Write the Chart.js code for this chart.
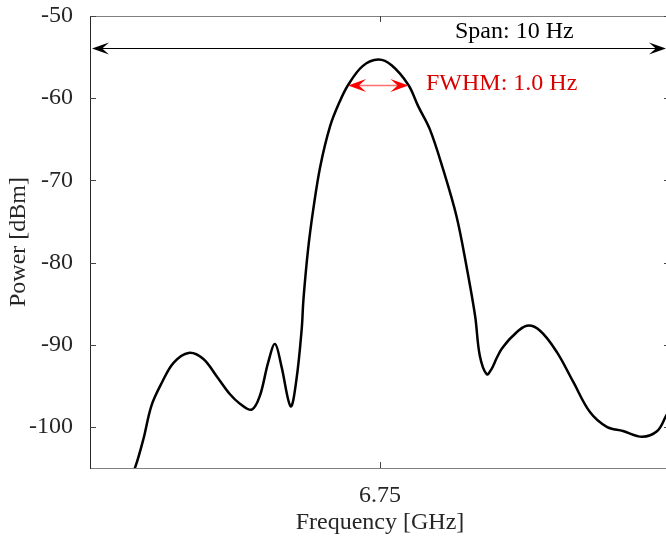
<!DOCTYPE html>
<html>
<head>
<meta charset="utf-8">
<script src="https://cdn.jsdelivr.net/npm/chart.js@4/dist/chart.umd.min.js"></script>
<style>
  html, body { margin: 0; padding: 0; background: #fff; overflow: hidden; }
  #wrap { width: 676px; height: 537px; position: relative; }
</style>
</head>
<body>
<div id="wrap"><canvas id="spectrum"></canvas></div>
<script>
// offset from 6.75 GHz, in Hz
const freqOffset = [-4.30, -4.22, -4.08, -3.94, -3.76, -3.56, -3.30, -3.05, -2.82, -2.59,
  -2.41, -2.21, -2.07, -1.93, -1.81, -1.70, -1.54, -1.44, -1.35, -1.32, -1.24, -1.15,
  -1.03, -0.86, -0.70, -0.55, -0.30, -0.03, 0.20, 0.49, 0.66, 0.86, 1.09, 1.32, 1.49,
  1.64, 1.72, 1.84, 1.92, 2.02, 2.10, 2.28, 2.53, 2.76, 3.05, 3.33, 3.62, 3.91, 4.19,
  4.52, 4.78, 4.93, 5.00];
const power = [-106.0, -104.9, -101.5, -97.4, -94.6, -92.2, -91.0, -91.7, -93.8, -96.0,
  -97.2, -97.9, -96.2, -92.2, -89.9, -92.6, -97.5, -94.2, -88.1, -84.5, -78.4, -73.5,
  -68.3, -63.4, -60.5, -58.4, -56.1, -55.3, -56.0, -58.4, -61.0, -63.8, -68.7, -74.4, -80.4,
  -86.5, -91.3, -93.6, -93.0, -91.5, -90.5, -89.0, -87.7, -88.3, -90.9, -94.5, -98.2, -100.0, -100.5,
  -101.2, -100.5, -98.7, -97.8];

const yTicks = [-100, -90, -80, -70, -60, -50];
const xTicks = [0];
const xTickLabels = ['6.75'];

const spanArrow = { from: -5, to: 5, y: -53.9, text: 'Span: 10 Hz' };
const fwhmArrow = { from: -0.55, to: 0.49, y: -58.4, text: 'FWHM: 1.0 Hz' };

const FONT = '"Liberation Serif", "Times New Roman", serif';

function arrowHead(ctx, x, y, dir, len, half) {
  // dir = +1 pointing right, -1 pointing left
  ctx.beginPath();
  ctx.moveTo(x, y);
  ctx.lineTo(x - dir * len, y - half);
  ctx.lineTo(x - dir * len * 0.6, y);
  ctx.lineTo(x - dir * len, y + half);
  ctx.closePath();
  ctx.fill();
}

const frame = {
  id: 'frame',
  afterDatasetsDraw(chart) {
    const { ctx, chartArea: a, scales: { x, y } } = chart;
    ctx.save();
    // box
    ctx.lineWidth = 1;
    ctx.strokeStyle = '#808080';
    ctx.beginPath();
    ctx.moveTo(a.left, a.top + 0.5); ctx.lineTo(a.right, a.top + 0.5);
    ctx.moveTo(a.left, a.bottom + 0.5); ctx.lineTo(a.right, a.bottom + 0.5);
    ctx.moveTo(a.right - 0.5, a.top); ctx.lineTo(a.right - 0.5, a.bottom);
    ctx.stroke();
    ctx.strokeStyle = '#262626';
    ctx.beginPath();
    ctx.moveTo(a.left + 0.5, a.top); ctx.lineTo(a.left + 0.5, a.bottom + 1);
    ctx.stroke();
    // inward ticks
    ctx.strokeStyle = '#444';
    ctx.beginPath();
    yTicks.forEach(v => {
      const py = Math.round(y.getPixelForValue(v)) + 0.5;
      ctx.moveTo(a.left, py); ctx.lineTo(a.left + 6, py);
      ctx.moveTo(a.right, py); ctx.lineTo(a.right - 6, py);
    });
    xTicks.forEach(v => {
      const px = Math.round(x.getPixelForValue(v)) + 0.5;
      ctx.moveTo(px, a.bottom); ctx.lineTo(px, a.bottom - 6);
      ctx.moveTo(px, a.top); ctx.lineTo(px, a.top + 6);
    });
    ctx.stroke();

    ctx.font = '24px ' + FONT;
    ctx.textBaseline = 'middle';
    ctx.textAlign = 'left';

    // span arrow
    const sy = Math.round(y.getPixelForValue(spanArrow.y)) + 0.5;
    const sx1 = x.getPixelForValue(spanArrow.from) + 2;
    const sx2 = x.getPixelForValue(spanArrow.to) - 4;
    ctx.strokeStyle = '#000';
    ctx.fillStyle = '#000';
    ctx.lineWidth = 1.2;
    ctx.beginPath(); ctx.moveTo(sx1 + 8, sy); ctx.lineTo(sx2 - 8, sy); ctx.stroke();
    arrowHead(ctx, sx1, sy, -1, 17, 6);
    arrowHead(ctx, sx2, sy, 1, 17, 6);
    ctx.fillText(spanArrow.text, 455, 32);

    // FWHM arrow
    const fy = Math.round(y.getPixelForValue(fwhmArrow.y)) + 0.5;
    const fx1 = x.getPixelForValue(fwhmArrow.from);
    const fx2 = x.getPixelForValue(fwhmArrow.to);
    ctx.strokeStyle = '#ff7070';
    ctx.fillStyle = '#ff0000';
    ctx.lineWidth = 1.5;
    ctx.beginPath(); ctx.moveTo(fx1 + 8, fy); ctx.lineTo(fx2 - 8, fy); ctx.stroke();
    arrowHead(ctx, fx1, fy, -1, 18, 6.5);
    arrowHead(ctx, fx2, fy, 1, 18, 6.5);
    ctx.fillStyle = '#d90000';
    ctx.fillText(fwhmArrow.text, 426, 84);
    ctx.restore();
  }
};

new Chart(document.getElementById('spectrum'), {
  type: 'line',
  data: {
    datasets: [{
      data: freqOffset.map((f, i) => ({ x: f, y: power[i] })),
      borderColor: '#000',
      borderWidth: 2.5,
      pointRadius: 0,
      tension: 0.35,
      fill: false
    }]
  },
  options: {
    responsive: true,
    maintainAspectRatio: false,
    animation: false,
    layout: { padding: { top: 16, right: 6, left: 0, bottom: 0 } },
    plugins: { legend: { display: false }, tooltip: { enabled: false } },
    scales: {
      x: {
        type: 'linear',
        min: -5,
        max: 5,
        afterBuildTicks: s => { s.ticks = xTicks.map(v => ({ value: v })); },
        afterFit: s => { s.height = 69; s.paddingLeft = 0; s.paddingRight = 0; },
        grid: { display: false },
        border: { display: false },
        ticks: {
          color: '#262626',
          font: { family: FONT, size: 24 },
          padding: 5,
          maxRotation: 0,
          callback: v => xTickLabels[xTicks.indexOf(v)]
        },
        title: {
          display: true,
          text: 'Frequency [GHz]',
          color: '#262626',
          font: { family: FONT, size: 24 },
          padding: { top: 0, bottom: 0 }
        }
      },
      y: {
        min: -105,
        max: -50,
        afterBuildTicks: s => { s.ticks = yTicks.map(v => ({ value: v })); },
        afterFit: s => { s.width = 90; s.paddingTop = 0; s.paddingBottom = 0; },
        grid: { display: false },
        border: { display: false },
        ticks: {
          color: '#262626',
          font: { family: FONT, size: 24 },
          padding: 9
        },
        title: {
          display: true,
          text: 'Power [dBm]',
          color: '#262626',
          font: { family: FONT, size: 24 },
          padding: { top: 4, bottom: 0 }
        }
      }
    }
  },
  plugins: [frame]
});
</script>
</body>
</html>
